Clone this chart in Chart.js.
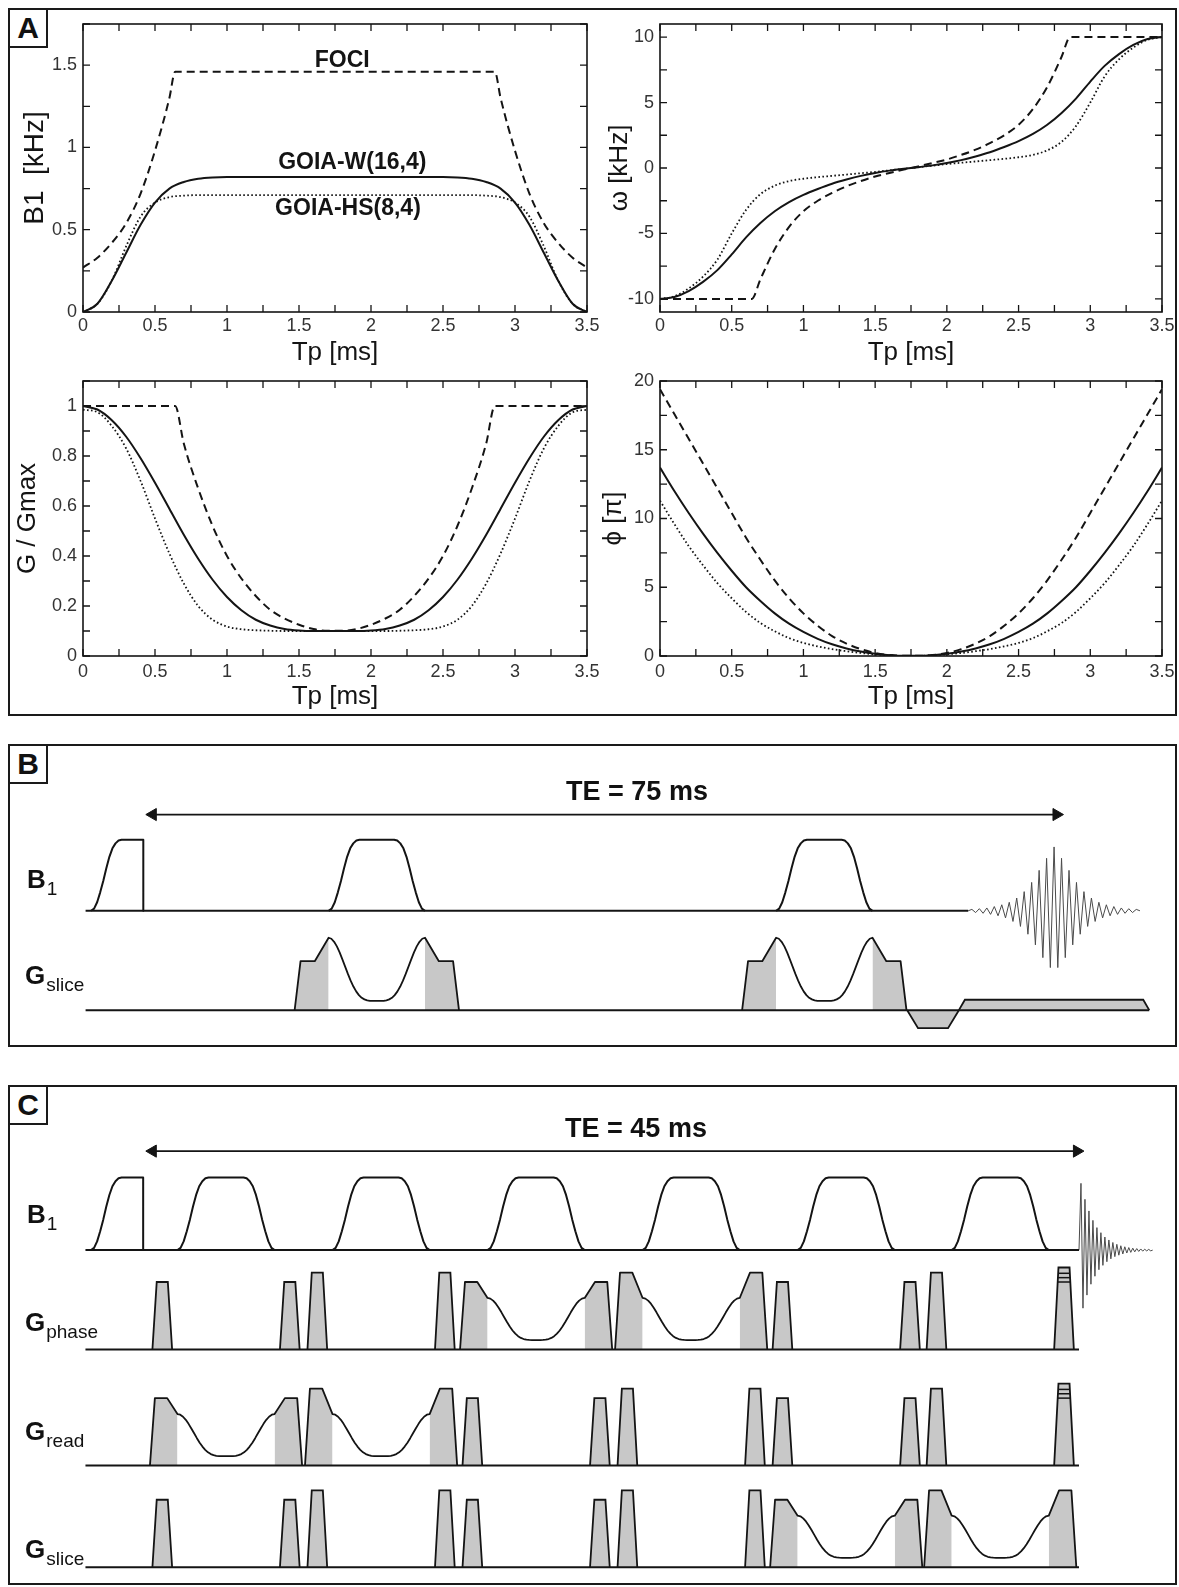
<!DOCTYPE html>
<html lang="en">
<head>
<meta charset="utf-8">
<title>GOIA pulses and sequences</title>
<script src="https://cdn.jsdelivr.net/npm/chart.js@4.4.1/dist/chart.umd.min.js"></script>
<style>
  html, body { margin: 0; padding: 0; background: #fff; }
  #page { position: relative; width: 1179px; height: 1587px; overflow: hidden; font-family: 'Liberation Sans', Arial, sans-serif; color: #111; }
  #page canvas { position: absolute; }
  .frame { position: absolute; border: 2px solid #1a1a1a; box-sizing: border-box; }
  .tag { position: absolute; width: 40px; height: 40px; border: 2px solid #1a1a1a; box-sizing: border-box; background: #fff;
         font-weight: bold; font-size: 30px; line-height: 36px; text-align: center; }
  .ch { position: absolute; font-weight: bold; font-size: 26px; line-height: 1; white-space: nowrap; }
  .ch sub { font-weight: normal; font-size: 19px; line-height: 0; vertical-align: baseline; position: relative; top: 7px; margin-left: 1px; }
  .te { position: absolute; font-weight: bold; font-size: 27px; line-height: 1; white-space: nowrap; transform: translate(-50%, -50%); }
</style>
</head>
<body>
<div id="page">
  <div class="frame" style="left:8px;top:8px;width:1169px;height:708px"></div>
  <div class="frame" style="left:8px;top:744px;width:1169px;height:303px"></div>
  <div class="frame" style="left:8px;top:1085px;width:1169px;height:500px"></div>

  <canvas id="aB1"></canvas>
  <canvas id="aOmega"></canvas>
  <canvas id="aGrad"></canvas>
  <canvas id="aPhase"></canvas>
  <canvas id="seqB"></canvas>
  <canvas id="seqC"></canvas>

  <div class="tag" style="left:8px;top:8px">A</div>
  <div class="tag" style="left:8px;top:744px">B</div>
  <div class="tag" style="left:8px;top:1085px">C</div>

  <div class="te" style="left:637px;top:791px">TE = 75 ms</div>
  <div class="ch" style="left:27px;top:866px">B<sub>1</sub></div>
  <div class="ch" style="left:25px;top:962px">G<sub>slice</sub></div>

  <div class="te" style="left:636px;top:1128px">TE = 45 ms</div>
  <div class="ch" style="left:27px;top:1201px">B<sub>1</sub></div>
  <div class="ch" style="left:25px;top:1309px">G<sub>phase</sub></div>
  <div class="ch" style="left:25px;top:1418px">G<sub>read</sub></div>
  <div class="ch" style="left:25px;top:1536px">G<sub>slice</sub></div>
</div>

<script>
// === Panel A: FOCI, GOIA-W(16,4), GOIA-HS(8,4) waveforms =================
// time axis (ms)
const tp = [0, 0.1, 0.2, 0.3, 0.4, 0.5, 0.6, 0.7, 0.8, 0.9, 1.0, 1.1, 1.2, 1.3, 1.4, 1.5, 1.6, 1.7,
            1.8, 1.9, 2.0, 2.1, 2.2, 2.3, 2.4, 2.5, 2.6, 2.7, 2.8, 2.9, 3.0, 3.1, 3.2, 3.3, 3.4, 3.5];
const tpTicks = [0, 0.5, 1, 1.5, 2, 2.5, 3, 3.5];
// FOCI has corners where the modulation clips, so it gets its own time grids
const fociB1T = [0, 0.1, 0.2, 0.3, 0.4, 0.5, 0.6, 0.64, 2.86, 2.9, 3.0, 3.1, 3.2, 3.3, 3.4, 3.5];
const fociT = [0, 0.64, 0.7, 0.8, 0.9, 1.0, 1.1, 1.2, 1.3, 1.4, 1.5, 1.6, 1.7,
               1.8, 1.9, 2.0, 2.1, 2.2, 2.3, 2.4, 2.5, 2.6, 2.7, 2.8, 2.86, 3.5];

// B1 [kHz]
const b1Ticks = [0, 0.5, 1, 1.5];
const b1Foci = [0.27, 0.33, 0.42, 0.54, 0.72, 0.98, 1.3, 1.46, 1.46, 1.3, 0.98, 0.72, 0.54, 0.42, 0.33, 0.27];
const b1GoiaW = [0, 0.05, 0.19, 0.36, 0.53, 0.665, 0.75, 0.79, 0.81, 0.818,
  0.82, 0.82, 0.82, 0.82, 0.82, 0.82, 0.82, 0.82, 0.82, 0.82, 0.82, 0.82, 0.82, 0.82, 0.82, 0.82,
  0.818, 0.81, 0.79, 0.75, 0.665, 0.53, 0.36, 0.19, 0.05, 0];
const b1GoiaHS = [0, 0.05, 0.19, 0.4, 0.58, 0.665, 0.698, 0.707,
  0.71, 0.71, 0.71, 0.71, 0.71, 0.71, 0.71, 0.71, 0.71, 0.71, 0.71, 0.71, 0.71, 0.71, 0.71, 0.71, 0.71, 0.71, 0.71, 0.71,
  0.707, 0.698, 0.665, 0.58, 0.4, 0.19, 0.05, 0];

// frequency offset omega [kHz]
const wTicks = [-10, -5, 0, 5, 10];
const wFoci = [-10, -10, -8.5, -6.2, -4.5, -3.3, -2.5, -1.9, -1.4, -1.0, -0.65, -0.38, -0.12,
               0.12, 0.38, 0.65, 1.0, 1.4, 1.9, 2.5, 3.3, 4.5, 6.2, 8.5, 10, 10];
const wGoiaW = [-10, -9.85, -9.4, -8.7, -7.8, -6.6, -5.3, -4.2, -3.3, -2.6, -2.05, -1.6, -1.2, -0.88, -0.6, -0.38, -0.2, -0.06,
                0.06, 0.2, 0.38, 0.6, 0.88, 1.2, 1.6, 2.05, 2.6, 3.3, 4.2, 5.3, 6.6, 7.8, 8.7, 9.4, 9.85, 10];
const wGoiaHS = [-10, -9.8, -9.2, -8.3, -7.0, -5.0, -3.2, -2.0, -1.35, -1.0, -0.82, -0.7, -0.6, -0.5, -0.4, -0.3, -0.18, -0.06,
                 0.06, 0.18, 0.3, 0.4, 0.5, 0.6, 0.7, 0.82, 1.0, 1.35, 2.0, 3.2, 5.0, 7.0, 8.3, 9.2, 9.8, 10];

// gradient G / Gmax
const gTicks = [0, 0.2, 0.4, 0.6, 0.8, 1];
const gFoci = [1, 1, 0.85, 0.67, 0.52, 0.4, 0.31, 0.24, 0.185, 0.15, 0.125, 0.108, 0.101,
               0.101, 0.108, 0.125, 0.15, 0.185, 0.24, 0.31, 0.4, 0.52, 0.67, 0.85, 1, 1];
const gGoiaW = [1.0, 0.986, 0.943, 0.877, 0.791, 0.693, 0.589, 0.485, 0.389, 0.305, 0.236, 0.183, 0.145, 0.122, 0.108, 0.102, 0.1, 0.1,
                0.1, 0.1, 0.102, 0.108, 0.122, 0.145, 0.183, 0.236, 0.305, 0.389, 0.485, 0.589, 0.693, 0.791, 0.877, 0.943, 0.986, 1.0];
const gGoiaHS = [0.985, 0.975, 0.92, 0.83, 0.7, 0.55, 0.41, 0.29, 0.2, 0.145, 0.118, 0.107, 0.103, 0.101, 0.1, 0.1, 0.1, 0.1,
                 0.1, 0.1, 0.1, 0.1, 0.101, 0.103, 0.107, 0.118, 0.145, 0.2, 0.29, 0.41, 0.55, 0.7, 0.83, 0.92, 0.975, 0.985];

// phase phi [pi]
const phTicks = [0, 5, 10, 15, 20];
const phFoci = [19.4, 17.6, 15.8, 14.0, 12.2, 10.4, 8.6, 7.0, 5.5, 4.2, 3.1, 2.2, 1.45, 0.9, 0.5, 0.22, 0.07, 0.01,
                0.01, 0.07, 0.22, 0.5, 0.9, 1.45, 2.2, 3.1, 4.2, 5.5, 7.0, 8.6, 10.4, 12.2, 14.0, 15.8, 17.6, 19.4];
const phGoiaW = [13.7, 12.0, 10.4, 8.9, 7.5, 6.2, 5.0, 4.0, 3.1, 2.35, 1.75, 1.25, 0.85, 0.55, 0.32, 0.16, 0.06, 0.01,
                 0.01, 0.06, 0.16, 0.32, 0.55, 0.85, 1.25, 1.75, 2.35, 3.1, 4.0, 5.0, 6.2, 7.5, 8.9, 10.4, 12.0, 13.7];
const phGoiaHS = [11.3, 9.6, 8.0, 6.6, 5.3, 4.2, 3.2, 2.4, 1.8, 1.3, 0.95, 0.7, 0.5, 0.35, 0.22, 0.12, 0.05, 0.01,
                  0.01, 0.05, 0.12, 0.22, 0.35, 0.5, 0.7, 0.95, 1.3, 1.8, 2.4, 3.2, 4.2, 5.3, 6.6, 8.0, 9.6, 11.3];

// === Panel B: adiabatic spin echo, TE = 75 ms (time in ms) =================
const bExc = { start: -5.13, rise: 2.54, end: -0.79 };
const bRefocStart = [14.59, 51.73];
const bRefocLen = 8.0;
const bTE = 75;
const bEchoAt = 74.8;
// slice rephaser and the long positive lobe under the echo
const bSliceTail = [
  { start: 62.61, len: 4.29, ramp: 0.9, amp: -0.253 },
  { start: 66.9, len: 15.8, ramp: 0.5, amp: 0.147 },
];
// half-cycle peak heights of the echo, read left to right (sign alternates)
const echoPeaks = [0.02, 0.025, 0.03, 0.035, 0.04, 0.05, 0.06, 0.07, 0.085, 0.1, 0.12, 0.15, 0.18, 0.22, 0.27, 0.33, 0.4, 0.48,
                   0.57, 0.66, 0.74, 0.8, 0.9, 0.8, 0.74, 0.66, 0.57, 0.48, 0.4, 0.33, 0.27, 0.22, 0.18, 0.15, 0.12, 0.1,
                   0.085, 0.07, 0.06, 0.05, 0.04, 0.035, 0.03, 0.025, 0.02];
const echoDt = 0.31;

// === Panel C: multi-echo sequence, TE = 45 ms (time in ms) ===================
const cExc = { start: -3.01, rise: 1.49, end: -0.47 };
const cRefocStart = [1.2, 8.75, 16.3, 23.85, 31.4, 38.9];
const cRefocLen = 4.73;
const cGoiaAxis = ['read', 'read', 'phase', 'phase', 'slice', 'slice'];
const cLobeHeight = [0.93, 1.06, 0.93, 1.06, 0.93, 1.06];
const cPhaseEncode = [1.13, 1.05, 0.99, 0.93];
const cTE = 45;
const cFidStart = 45.1;
const fidPeaks = [0.92, 0.8, 0.7, 0.62, 0.54, 0.47, 0.41, 0.36, 0.31, 0.27, 0.24, 0.21, 0.18, 0.16, 0.14, 0.12, 0.105, 0.09,
                  0.08, 0.07, 0.06, 0.053, 0.046, 0.04, 0.035, 0.031, 0.027, 0.024, 0.021, 0.018, 0.016, 0.014, 0.012, 0.011, 0.01, 0.01];
const fidDt = 0.097;

// RF pulse edge (normalised), used for every B1 pulse in B and C
const rfRise = [0, 0.03, 0.12, 0.26, 0.42, 0.6, 0.76, 0.88, 0.95, 0.99, 1];
const rfRiseFrac = 0.32;

// ------------------------------------------------------------------------
const LINE = '#141414';
const GRAY = '#c8c8c8';
const tickFont = { family: "'Liberation Sans Narrow', 'Liberation Sans', Arial, sans-serif", size: 18 };
const titleFont = { family: "'Liberation Sans', Arial, sans-serif", size: 26 };

Chart.defaults.font.family = "'Liberation Sans', Arial, sans-serif";
Chart.defaults.color = '#222';
Chart.defaults.animation = false;
Chart.defaults.responsive = false;
Chart.defaults.devicePixelRatio = 1;
Chart.defaults.plugins.legend.display = false;
Chart.defaults.plugins.tooltip.enabled = false;

// frame + inward ticks on all four sides (like the original plotting program)
const frameTicks = {
  id: 'frameTicks',
  afterDatasetsDraw(chart, args, opts) {
    const { ctx, chartArea: a, scales: { x, y } } = chart;
    const len = opts.len || 7;
    ctx.save();
    ctx.strokeStyle = LINE;
    ctx.lineWidth = 1.6;
    ctx.strokeRect(a.left, a.top, a.right - a.left, a.bottom - a.top);
    ctx.lineWidth = 1.3;
    ctx.beginPath();
    for (let k = Math.ceil(x.min / opts.xStep - 1e-6); k * opts.xStep <= x.max + 1e-6; k++) {
      const px = x.getPixelForValue(k * opts.xStep);
      ctx.moveTo(px, a.bottom); ctx.lineTo(px, a.bottom - len);
      ctx.moveTo(px, a.top); ctx.lineTo(px, a.top + len);
    }
    for (let k = Math.ceil(y.min / opts.yStep - 1e-6); k * opts.yStep <= y.max + 1e-6; k++) {
      const py = y.getPixelForValue(k * opts.yStep);
      ctx.moveTo(a.left, py); ctx.lineTo(a.left + len, py);
      ctx.moveTo(a.right, py); ctx.lineTo(a.right - len, py);
    }
    ctx.stroke();
    ctx.restore();
  }
};

// curve names written inside the plot, placed in data coordinates
const notes = {
  id: 'notes',
  afterDatasetsDraw(chart, args, opts) {
    if (!opts.items || !opts.items.length) return;
    const { ctx, scales: { x, y } } = chart;
    ctx.save();
    ctx.font = "bold 23px 'Liberation Sans', Arial, sans-serif";
    ctx.fillStyle = LINE;
    ctx.textAlign = 'center';
    ctx.textBaseline = 'middle';
    opts.items.forEach(n => ctx.fillText(n.text, x.getPixelForValue(n.x), y.getPixelForValue(n.y)));
    ctx.restore();
  }
};

function placeCanvas(id, rect) {
  const cv = document.getElementById(id);
  const [l, t, r, b] = rect;
  cv.width = r - l; cv.height = b - t;
  cv.style.left = l + 'px'; cv.style.top = t + 'px';
  cv.style.width = (r - l) + 'px'; cv.style.height = (b - t) + 'px';
  return cv;
}

/**
 * One waveform subplot of panel A. `canvas` and `plot` are page rectangles
 * [left, top, right, bottom]; the axes are forced to fill the gap between them.
 */
function waveChart(id, canvas, plot, cfg) {
  const cv = placeCanvas(id, canvas);
  const [cl, ct, cr, cb] = canvas;
  const [pl, pt, pr, pb] = plot;
  const fixTicks = list => s => { s.ticks = list.map(v => ({ value: v })); };
  return new Chart(cv, {
    type: 'line',
    data: {
      datasets: cfg.series.map(s => ({
        data: s.t.map((t, i) => ({ x: t, y: s.v[i] })),
        borderColor: LINE,
        borderWidth: s.width || 2,
        borderDash: s.dash || [],
        cubicInterpolationMode: 'monotone',
        pointRadius: 0,
        fill: false,
      })),
    },
    options: {
      layout: { padding: { left: 0, top: pt - ct, right: cr - pr, bottom: 0 } },
      scales: {
        x: {
          type: 'linear', min: 0, max: 3.5,
          grid: { display: false, drawTicks: false }, border: { display: false },
          afterBuildTicks: fixTicks(tpTicks),
          afterFit: s => { s.height = cb - pb; s.paddingLeft = 0; s.paddingRight = 0; },
          ticks: { autoSkip: false, maxRotation: 0, padding: cfg.xPad, font: tickFont, color: '#333', callback: v => String(v) },
          title: { display: true, text: 'Tp [ms]', font: titleFont, color: LINE, padding: 0 },
        },
        y: {
          type: 'linear', min: cfg.yMin, max: cfg.yMax,
          grid: { display: false, drawTicks: false }, border: { display: false },
          afterBuildTicks: fixTicks(cfg.yTicks),
          afterFit: s => { s.width = pl - cl; s.paddingTop = 0; s.paddingBottom = 0; },
          ticks: { autoSkip: false, padding: 6, font: tickFont, color: '#333', callback: v => String(v) },
          title: { display: true, text: cfg.yTitle, font: cfg.yTitleFont || titleFont, color: LINE, padding: 0 },
        },
      },
      plugins: {
        frameTicks: { xStep: 0.25, yStep: cfg.yStep, len: 7 },
        notes: { items: cfg.notes || [] },
      },
    },
    plugins: [frameTicks, notes],
  });
}

const DASH = [8, 5];
const DOTS = [1.6, 2.4];

waveChart('aB1', [18, 10, 599, 368], [83, 24, 587, 312], {
  yMin: 0, yMax: 1.75, yStep: 0.25, yTicks: b1Ticks, yTitle: 'B1  [kHz]', xPad: 3,
  yTitleFont: { family: "'Liberation Sans', Arial, sans-serif", size: 28 },
  series: [
    { t: fociB1T, v: b1Foci, dash: DASH },
    { t: tp, v: b1GoiaW },
    { t: tp, v: b1GoiaHS, dash: DOTS, width: 1.8 },
  ],
  notes: [
    { text: 'FOCI', x: 1.8, y: 1.53 },
    { text: 'GOIA-W(16,4)', x: 1.87, y: 0.91 },
    { text: 'GOIA-HS(8,4)', x: 1.84, y: 0.625 },
  ],
});

waveChart('aOmega', [604, 10, 1176, 368], [660, 24, 1162, 312], {
  yMin: -11, yMax: 11, yStep: 2.5, yTicks: wTicks, yTitle: 'ω [kHz]', xPad: 3,
  series: [
    { t: fociT, v: wFoci, dash: DASH },
    { t: tp, v: wGoiaW },
    { t: tp, v: wGoiaHS, dash: DOTS, width: 1.8 },
  ],
});

waveChart('aGrad', [12, 367, 599, 712], [83, 381, 587, 656], {
  yMin: 0, yMax: 1.1, yStep: 0.1, yTicks: gTicks, yTitle: 'G / Gmax', xPad: 5,
  series: [
    { t: fociT, v: gFoci, dash: DASH },
    { t: tp, v: gGoiaW },
    { t: tp, v: gGoiaHS, dash: DOTS, width: 1.8 },
  ],
});

waveChart('aPhase', [598, 367, 1176, 712], [660, 381, 1162, 656], {
  yMin: 0, yMax: 20, yStep: 2.5, yTicks: phTicks, yTitle: 'ϕ [π]', xPad: 5,
  series: [
    { t: tp, v: phFoci, dash: DASH },
    { t: tp, v: phGoiaW },
    { t: tp, v: phGoiaHS, dash: DOTS, width: 1.8 },
  ],
});

// === sequence diagram helpers =========================================
function trace(data, width, color) {
  return { data, borderColor: color || LINE, borderWidth: width || 2, pointRadius: 0, fill: false, order: 1, borderJoinStyle: 'round' };
}
function shade(data, base, stroke) {
  return {
    data, backgroundColor: GRAY, fill: { value: base }, pointRadius: 0,
    borderColor: stroke ? LINE : 'rgba(0,0,0,0)', borderWidth: stroke ? 1.8 : 1, order: 2,
  };
}
function rfPulse(t0, len, base) {
  const r = len * rfRiseFrac, n = rfRise.length - 1;
  const up = rfRise.map((a, i) => ({ x: t0 + r * i / n, y: base + a }));
  const down = rfRise.map((a, i) => ({ x: t0 + len - r * i / n, y: base + a })).reverse();
  return up.concat(down);
}
function excPulse(exc, base) {
  const n = rfRise.length - 1;
  const up = rfRise.map((a, i) => ({ x: exc.start + exc.rise * i / n, y: base + a }));
  return up.concat([{ x: exc.end, y: base + 1 }, { x: exc.end, y: base }]);
}
// GOIA gradient during a refocusing pulse, shaped like the G/Gmax GOIA-W curve of panel A
function goiaCurve(t0, len, base, hi, lo) {
  const T = tp[tp.length - 1];
  return tp.map((t, i) => ({ x: t0 + len * t / T, y: base + lo + (hi - lo) * (gGoiaW[i] - 0.1) / 0.9 }));
}
function trap(s, w, ramp, h, base) {
  return [{ x: s, y: base }, { x: s + ramp, y: base + h }, { x: s + w - ramp, y: base + h }, { x: s + w, y: base }];
}
function osc(peaks, start, dt, base) {
  const data = [{ x: start, y: base }];
  peaks.forEach((a, i) => data.push({ x: start + (i + 1) * dt, y: base + (i % 2 === 0 ? a : -a) }));
  data.push({ x: start + (peaks.length + 1) * dt, y: base });
  return data;
}
function teArrow(te, y) {
  return {
    data: [{ x: 0, y }, { x: te, y }], borderColor: LINE, borderWidth: 1.8, fill: false, order: 1,
    pointStyle: 'triangle', pointRadius: 7, pointRotation: [-90, 90],
    pointBackgroundColor: LINE, pointBorderColor: LINE, pointBorderWidth: 1,
  };
}
function seqChart(id, rect, xr, yr, datasets) {
  const cv = placeCanvas(id, rect);
  return new Chart(cv, {
    type: 'line',
    data: { datasets },
    options: {
      layout: { padding: 0 },
      scales: {
        x: { type: 'linear', display: false, min: xr[0], max: xr[1] },
        y: { type: 'linear', display: false, min: yr[0], max: yr[1] },
      },
    },
  });
}

// === Panel B ==========================================================
(function () {
  const B1 = 0, GS = -1.4;           // channel baselines (75 px per unit)
  const lobe = { foot: 2.82, stepOut: 2.33, stepIn: 1.15, step: 0.69, peak: 1.02, floor: 0.13 };
  const sets = [];
  const echoStart = bEchoAt - (echoPeaks.length + 1) / 2 * echoDt;
  const tailEnd = bSliceTail[bSliceTail.length - 1].start + bSliceTail[bSliceTail.length - 1].len;

  sets.push(trace([{ x: -5.58, y: B1 }, { x: echoStart, y: B1 }]));
  sets.push(trace([{ x: -5.58, y: GS }, { x: tailEnd, y: GS }]));
  sets.push(teArrow(bTE, 1.356));

  sets.push(trace(excPulse(bExc, B1)));
  bRefocStart.forEach(ps => {
    const pe = ps + bRefocLen;
    sets.push(trace(rfPulse(ps, bRefocLen, B1)));
    const left = [
      { x: ps - lobe.foot, y: GS }, { x: ps - lobe.stepOut, y: GS + lobe.step },
      { x: ps - lobe.stepIn, y: GS + lobe.step }, { x: ps, y: GS + lobe.peak },
    ];
    const right = [
      { x: pe, y: GS + lobe.peak }, { x: pe + lobe.stepIn, y: GS + lobe.step },
      { x: pe + lobe.stepOut, y: GS + lobe.step }, { x: pe + lobe.foot, y: GS },
    ];
    sets.push(shade(left, GS, false));
    sets.push(shade(right, GS, false));
    sets.push(trace(left.concat(goiaCurve(ps, bRefocLen, GS, lobe.peak, lobe.floor), right), 1.8));
  });
  bSliceTail.forEach(l => sets.push(shade(trap(l.start, l.len, l.ramp, l.amp, GS), GS, true)));
  sets.push(trace(osc(echoPeaks, echoStart, echoDt, B1), 1, '#4a4a4a'));

  seqChart('seqB', [10, 746, 1174, 1044], [-11.19, 84.09], [-1.764, 2.2093], sets);
})();

// === Panel C ==========================================================
(function () {
  const base = { b1: 0, phase: -1.3693, read: -2.9693, slice: -4.3693 };
  const axes = ['phase', 'read', 'slice'];
  const lobe = { foot: 1.34, topOut: 1.1, topIn: 0.5, edge: 0.71, floor: 0.13 };
  const crusher = { w: 0.96, ramp: 0.21, gap: 0.26 };
  const sets = [];

  sets.push(trace([{ x: -3.28, y: base.b1 }, { x: cFidStart, y: base.b1 }]));
  axes.forEach(ax => sets.push(trace([{ x: -3.28, y: base[ax] }, { x: cFidStart, y: base[ax] }])));
  sets.push(teArrow(cTE, 1.364));
  sets.push(trace(excPulse(cExc, base.b1)));

  const last = cRefocStart.length - 1;
  cRefocStart.forEach((ps, k) => {
    const pe = ps + cRefocLen;
    const h = cLobeHeight[k];
    sets.push(trace(rfPulse(ps, cRefocLen, base.b1)));
    axes.forEach(ax => {
      const b = base[ax];
      if (ax === cGoiaAxis[k]) {
        const left = [
          { x: ps - lobe.foot, y: b }, { x: ps - lobe.topOut, y: b + h },
          { x: ps - lobe.topIn, y: b + h }, { x: ps, y: b + lobe.edge },
        ];
        const right = [
          { x: pe, y: b + lobe.edge }, { x: pe + lobe.topIn, y: b + h },
          { x: pe + lobe.topOut, y: b + h }, { x: pe + lobe.foot, y: b },
        ];
        sets.push(shade(left, b, false));
        sets.push(shade(right, b, false));
        sets.push(trace(left.concat(goiaCurve(ps, cRefocLen, b, lobe.edge, lobe.floor), right), 1.8));
        return;
      }
      const ls = ps - crusher.gap - crusher.w;
      sets.push(shade(trap(ls, crusher.w, crusher.ramp, h, b), b, true));
      const rs = pe + crusher.gap;
      if (k === last) {
        // phase-encoding table after the last refocusing pulse
        const H = cPhaseEncode[0];
        sets.push(shade(trap(rs, crusher.w, crusher.ramp, H, b), b, true));
        cPhaseEncode.slice(1).forEach(lv => {
          const inset = crusher.ramp * lv / H;
          sets.push(trace([{ x: rs + inset, y: b + lv }, { x: rs + crusher.w - inset, y: b + lv }], 1.5));
        });
      } else {
        sets.push(shade(trap(rs, crusher.w, crusher.ramp, h, b), b, true));
      }
    });
  });
  sets.push(trace(osc(fidPeaks, cFidStart, fidDt, base.b1), 1, '#4a4a4a'));

  seqChart('seqC', [10, 1087, 1174, 1582], [-6.565, 49.337], [-4.4627, 2.1373], sets);
})();
</script>
</body>
</html>
